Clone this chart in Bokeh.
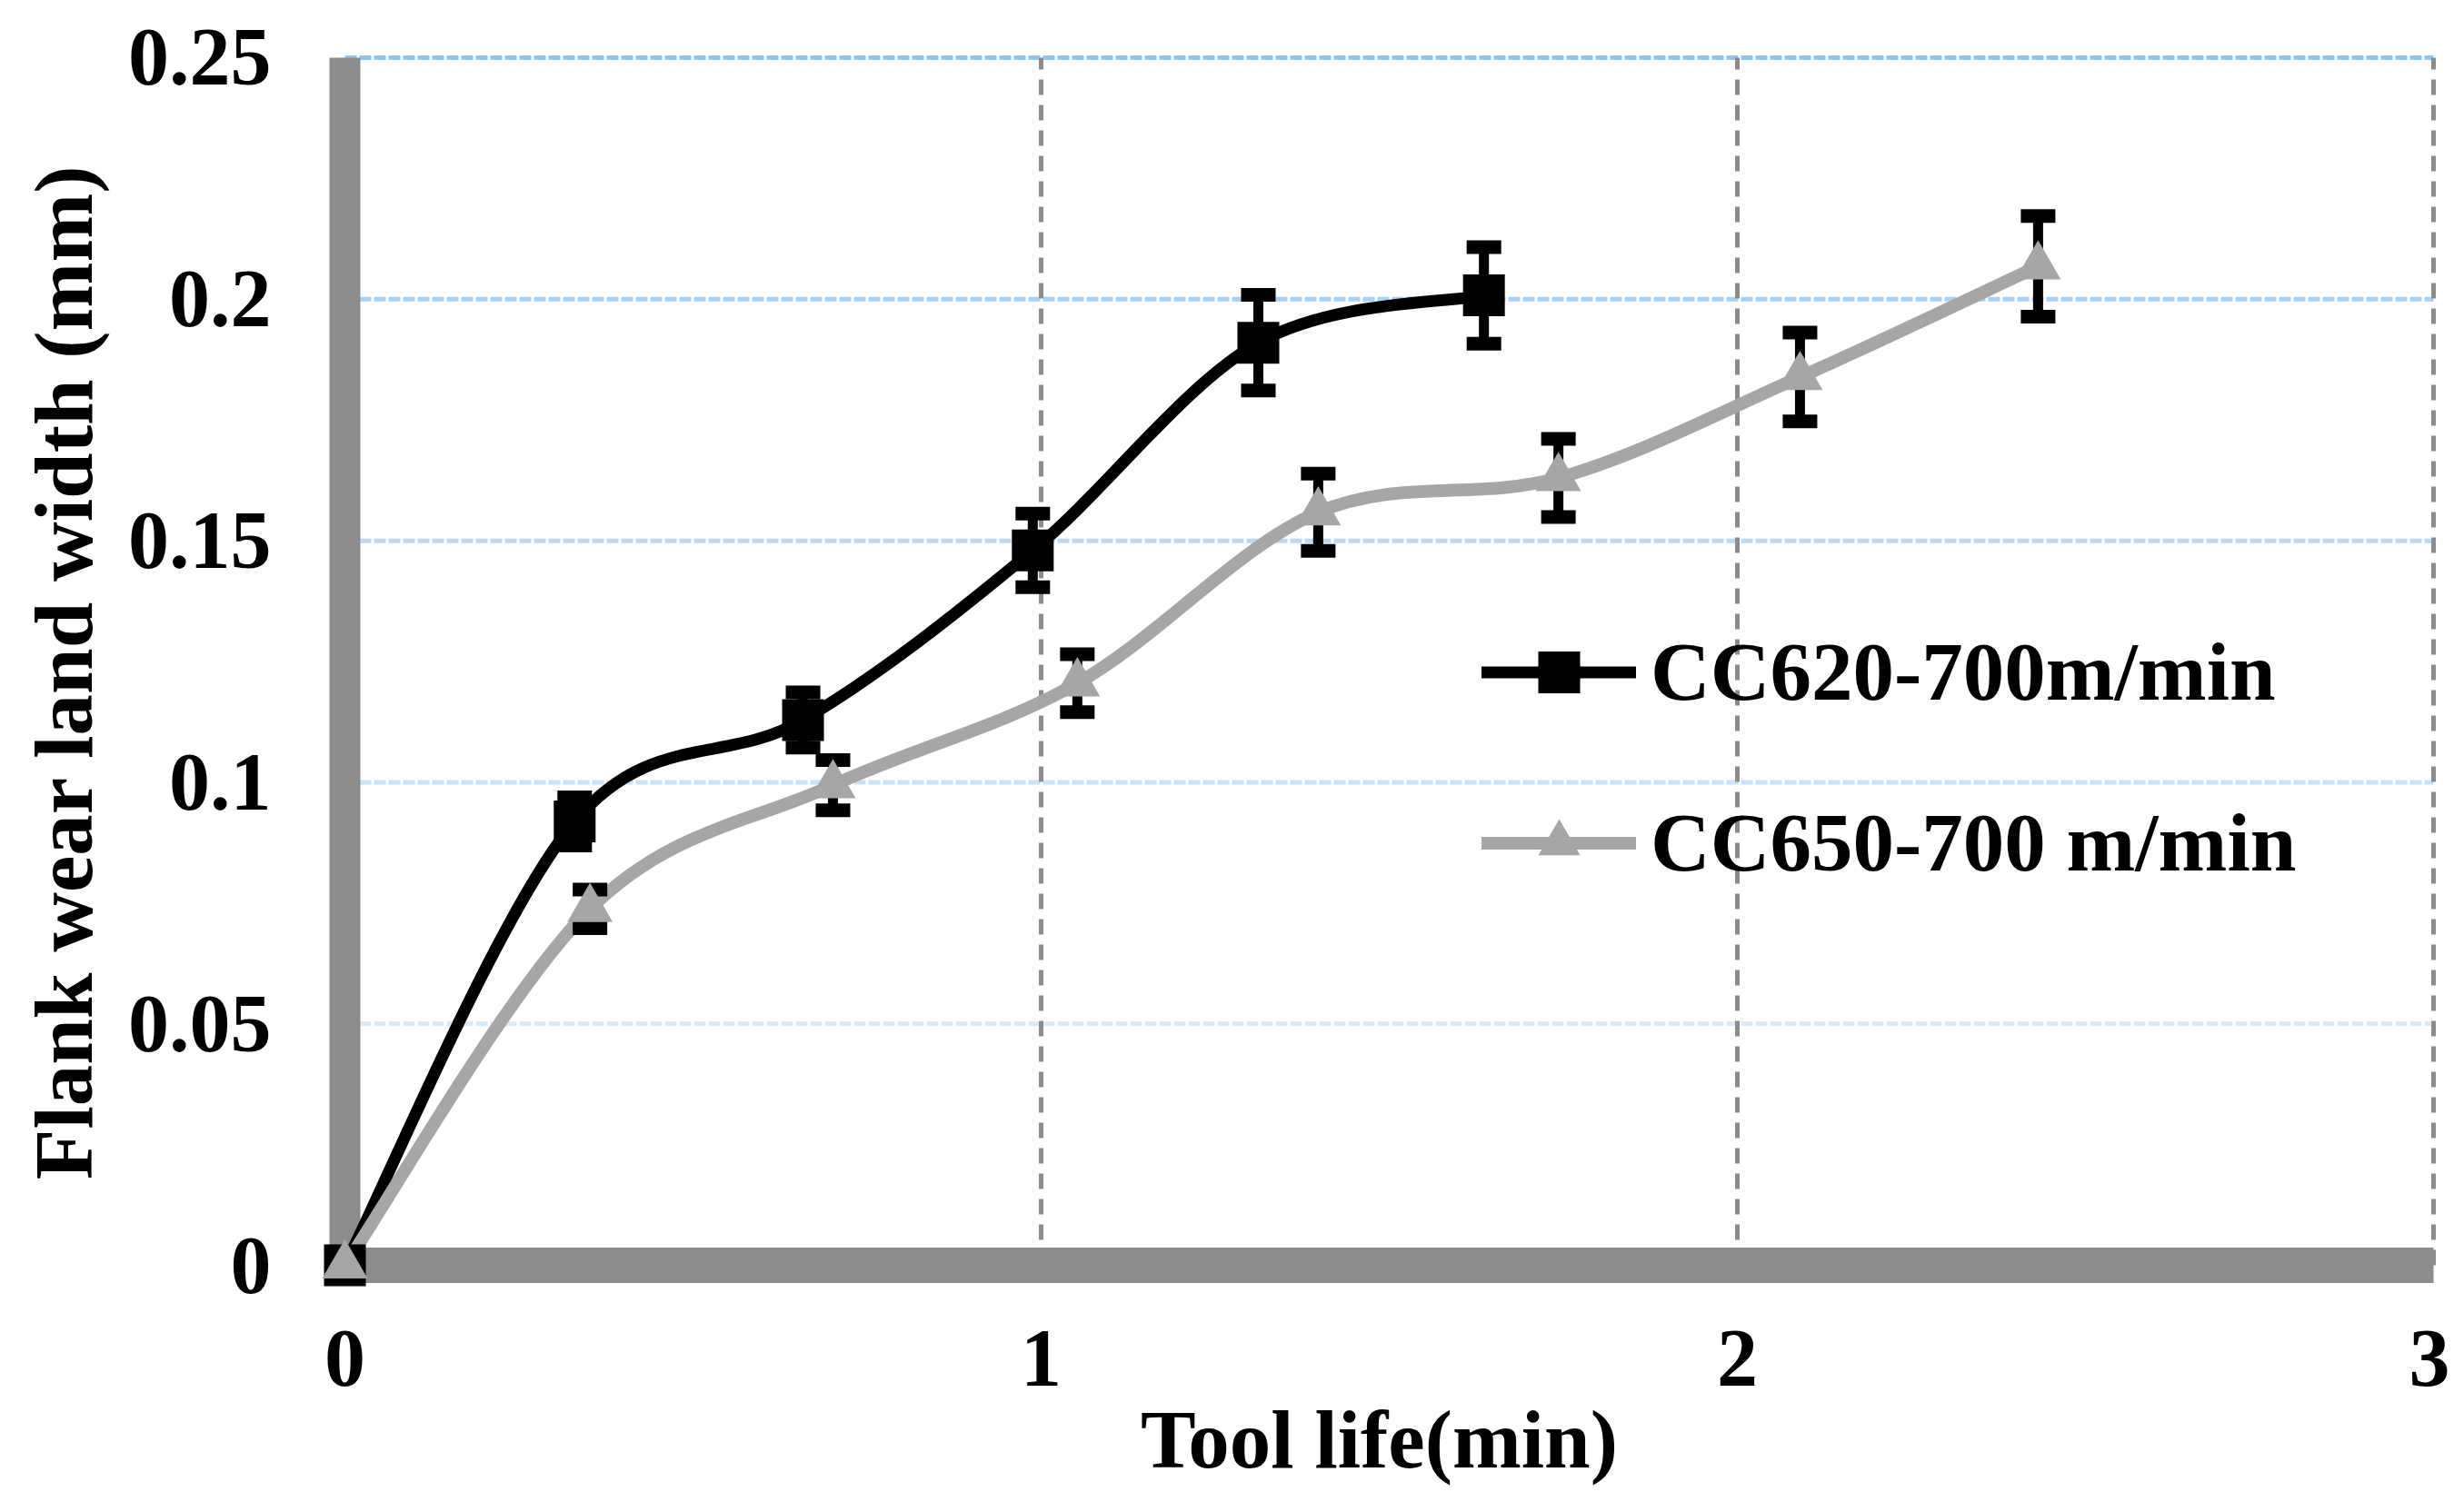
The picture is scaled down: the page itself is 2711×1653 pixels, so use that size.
from bokeh.plotting import figure
from bokeh.models import Range1d, FixedTicker, Legend, LegendItem, ColumnDataSource
from bokeh.embed import file_html
from bokeh.resources import INLINE

# ---------------- data ----------------
time_cc620 = [0.0, 0.330, 0.658, 0.988, 1.312, 1.636]
wear_cc620 = [0.0, 0.0919, 0.1129, 0.1480, 0.1910, 0.2008]
err_cc620 = [0.0, 0.0050, 0.0057, 0.0076, 0.0099, 0.0100]

time_cc650 = [0.0, 0.352, 0.701, 1.052, 1.398, 1.743, 2.090, 2.432]
wear_cc650 = [0.0, 0.0738, 0.0994, 0.1205, 0.1559, 0.1630, 0.1839, 0.2068]
err_cc650 = [0.0, 0.0040, 0.0052, 0.0060, 0.0080, 0.0081, 0.0092, 0.0104]

label_cc620 = "CC620-700m/min"
label_cc650 = "CC650-700 m/min"

x_ticks = [0, 1, 2, 3]
x_tick_labels = ["0", "1", "2", "3"]
y_ticks = [0, 0.05, 0.1, 0.15, 0.2, 0.25]
y_tick_labels = ["0", "0.05", "0.1", "0.15", "0.2", "0.25"]
y_grid_vals = [0.05, 0.1, 0.15, 0.2, 0.25]
y_grid_colors = ["#dbeaf9", "#c9e1f9", "#b8d9f8", "#a6d0f7", "#8ec5f7"]
x_grid_vals = [1, 2, 3]

x_title = "Tool life(min)"
y_title = "Flank wear land width (mm)"

# ---------------- layout ----------------
W, H = 2695, 1637
FL, FR, FT, FB = 352, 2682, 58, 1426       # frame edges (canvas px)
X0PX, XPU = 379, 766.0                      # px of x=0, px per unit
Y0PX, YPU = 1398, 5340.0                    # px of y=0, px per unit

x_start = -(X0PX - FL) / XPU
x_end = (FR - X0PX) / XPU
y_start = -(FB - Y0PX) / YPU
y_end = (Y0PX - FT) / YPU

FONT = "Liberation Serif"
AXIS_GRAY = "#8c8c8c"
GRAY = "#a6a6a6"

p = figure(width=W, height=H, x_range=Range1d(x_start, x_end), y_range=Range1d(y_start, y_end),
           output_backend="svg", toolbar_location=None,
           min_border_left=FL, min_border_right=W - FR, min_border_top=FT, min_border_bottom=H - FB)
p.outline_line_color = None
p.grid.visible = False
p.background_fill_color = "white"

# axes: only labels & titles
for ax in (p.xaxis[0], p.yaxis[0]):
    ax.axis_line_color = None
    ax.major_tick_line_color = None
    ax.minor_tick_line_color = None
    ax.major_tick_out = 0
    ax.major_tick_in = 0
    ax.major_label_text_font = FONT
    ax.major_label_text_font_style = "bold"
    ax.major_label_text_font_size = "90px"
    ax.major_label_text_color = "black"
    ax.axis_label_text_font = FONT
    ax.axis_label_text_font_style = "bold"
    ax.axis_label_text_font_size = "91px"
    ax.axis_label_text_color = "black"

p.xaxis.ticker = FixedTicker(ticks=x_ticks)
p.xaxis.major_label_overrides = {float(t): l for t, l in zip(x_ticks, x_tick_labels)}
p.xaxis.axis_label = x_title
p.xaxis.major_label_standoff = 44
p.xaxis.axis_label_standoff = 6

p.yaxis.ticker = FixedTicker(ticks=y_ticks)
p.yaxis.major_label_overrides = {float(t): l for t, l in zip(y_ticks, y_tick_labels)}
p.yaxis.axis_label = y_title
p.yaxis.major_label_standoff = 54
p.yaxis.axis_label_standoff = 17

# gridlines (dashed)
for yv, col in zip(y_grid_vals, y_grid_colors):
    p.segment(x0=[x_ticks[0]], y0=[yv], x1=[x_ticks[-1]], y1=[yv],
              line_color=col, line_width=5, line_dash="13 3")
p.segment(x0=x_grid_vals, y0=[y_ticks[0]] * len(x_grid_vals), x1=x_grid_vals,
          y1=[y_ticks[-1]] * len(x_grid_vals), line_color=AXIS_GRAY, line_width=5, line_dash="17 11")

# thick axis bars
p.segment(x0=[x_ticks[0]], y0=[y_ticks[0]], x1=[x_ticks[-1]], y1=[y_ticks[0]],
          line_color=AXIS_GRAY, line_width=39, line_cap="butt")
p.segment(x0=[x_ticks[0]], y0=[y_ticks[0]], x1=[x_ticks[0]], y1=[y_ticks[-1]],
          line_color=AXIS_GRAY, line_width=34, line_cap="butt")


def smooth_source(xs, ys):
    """Bezier segments (Catmull-Rom style, like Excel's smoothed line) through the data points."""
    n = len(xs)
    d = dict(x0=[], y0=[], x1=[], y1=[], cx0=[], cy0=[], cx1=[], cy1=[])
    for i in range(n - 1):
        xa, ya = (xs[i - 1], ys[i - 1]) if i > 0 else (xs[i], ys[i])
        xb, yb = (xs[i + 2], ys[i + 2]) if i + 2 < n else (xs[i + 1], ys[i + 1])
        d["x0"].append(xs[i]); d["y0"].append(ys[i])
        d["x1"].append(xs[i + 1]); d["y1"].append(ys[i + 1])
        d["cx0"].append(xs[i] + (xs[i + 1] - xa) / 6.0)
        d["cy0"].append(ys[i] + (ys[i + 1] - ya) / 6.0)
        d["cx1"].append(xs[i + 1] - (xb - xs[i]) / 6.0)
        d["cy1"].append(ys[i + 1] - (yb - ys[i]) / 6.0)
    return ColumnDataSource(d)


def err_source(xs, ys, es):
    return ColumnDataSource(dict(x=xs, y=ys, lo=[y - e for y, e in zip(ys, es)],
                                 hi=[y + e for y, e in zip(ys, es)]))


# smoothed lines
l620 = p.bezier(x0="x0", y0="y0", x1="x1", y1="y1", cx0="cx0", cy0="cy0", cx1="cx1", cy1="cy1",
                source=smooth_source(time_cc620, wear_cc620), line_color="black", line_width=13,
                line_cap="round")
l650 = p.bezier(x0="x0", y0="y0", x1="x1", y1="y1", cx0="cx0", cy0="cy0", cx1="cx1", cy1="cy1",
                source=smooth_source(time_cc650, wear_cc650), line_color=GRAY, line_width=14,
                line_cap="round")

# error bars (black for both series)
for xs, ys, es in ((time_cc620, wear_cc620, err_cc620), (time_cc650, wear_cc650, err_cc650)):
    src = err_source(xs[1:], ys[1:], es[1:])
    p.segment(x0="x", y0="lo", x1="x", y1="hi", source=src, line_color="black", line_width=11)
    p.scatter(x="x", y="lo", source=src, marker="dash", size=38, line_width=15,
              line_color="black", line_cap="butt")
    p.scatter(x="x", y="hi", source=src, marker="dash", size=38, line_width=15,
              line_color="black", line_cap="butt")

# markers
m620 = p.scatter(x=time_cc620, y=wear_cc620, marker="square", size=46,
                 fill_color="black", line_color="black", line_width=0)
m650 = p.scatter(x=time_cc650, y=wear_cc650, marker="triangle", size=50,
                 fill_color=GRAY, line_color=GRAY, line_width=0)

legend = Legend(items=[LegendItem(label=label_cc620, renderers=[l620, m620]),
                       LegendItem(label=label_cc650, renderers=[l650, m650])])
legend.glyph_width = 170
legend.glyph_height = 115
legend.label_height = 115
legend.spacing = 73
legend.label_standoff = 16
legend.padding = 0
legend.margin = 0
legend.border_line_color = None
legend.background_fill_alpha = 0
legend.label_text_font = FONT
legend.label_text_font_style = "bold"
legend.label_text_font_size = "91px"
legend.label_text_color = "black"
leg_top = 745 - 115 / 2
leg_h = 2 * 115 + 73
legend.location = (1630 - FL, FB - (leg_top + leg_h))
p.add_layout(legend, "center")

open("out.html", "w").write(file_html(p, INLINE))
